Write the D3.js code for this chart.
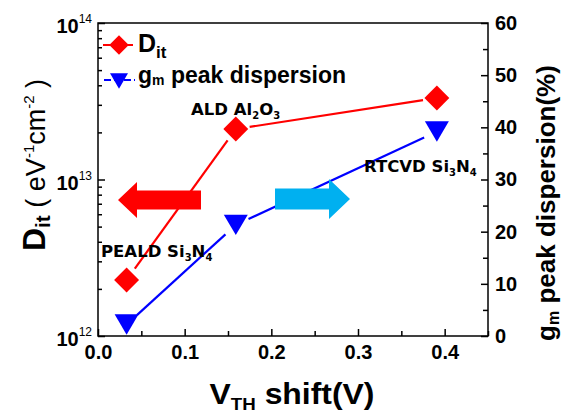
<!DOCTYPE html>
<html><head><meta charset="utf-8">
<script src="https://cdn.jsdelivr.net/npm/d3@7"></script>
<style>body{margin:0;background:#fff}text{font-family:"Liberation Sans",Arial,sans-serif;font-weight:bold}</style>
</head><body>
<svg id="c" width="561" height="413"></svg>
<script>
const vthShift = [0.033, 0.159, 0.391];
const ditValues = [2.28e12, 2.1e13, 3.32e13];
const gmDispersion = [2.2, 21.3, 39.2];
const sampleLabels = ["PEALD Si_3N_4", "ALD Al_2O_3", "RTCVD Si_3N_4"];
const xTicks = [0, 0.1, 0.2, 0.3, 0.4];
const yLeftTicks = [1e12, 1e13, 1e14];
const yRightTicks = [0, 10, 20, 30, 40, 50, 60];

const svg = d3.select("#c");
const L = 98, R = 488, T = 23, B = 336;
const x = d3.scaleLinear().domain([0, 0.45]).range([L, R]);
const yL = d3.scaleLog().domain([1e12, 1e14]).range([B, T]);
const yR = d3.scaleLinear().domain([0, 60]).range([B, T]);

svg.append("rect").attr("x", L).attr("y", T).attr("width", R - L).attr("height", B - T)
  .attr("fill", "none").attr("stroke", "#000").attr("stroke-width", 1.5);

// bottom axis
const gx = svg.append("g").attr("transform", `translate(0,${B})`);
gx.call(d3.axisBottom(x).tickValues(d3.range(0.05, 0.451, 0.1)).tickSize(-5).tickFormat(""));
const gx2 = svg.append("g").attr("transform", `translate(0,${B})`);
gx2.call(d3.axisBottom(x).tickValues(xTicks).tickSize(-7).tickPadding(9).tickFormat(d3.format(".1f")));
svg.selectAll(".domain").remove();
gx2.selectAll("text").attr("font-size", 20).attr("fill", "#000");
svg.selectAll(".tick line").attr("stroke-width", 1.5);

// left log axis
const gl = svg.append("g").attr("transform", `translate(${L},0)`);
const minorL = [];
[1e12, 1e13].forEach(d => { for (let k = 2; k <= 9; k++) minorL.push(d * k); });
gl.call(d3.axisLeft(yL).tickValues(minorL).tickSize(-4).tickFormat(""));
const gl2 = svg.append("g").attr("transform", `translate(${L},0)`);
gl2.call(d3.axisLeft(yL).tickValues(yLeftTicks).tickSize(-7).tickFormat(""));
gl.selectAll(".domain").remove(); gl2.selectAll(".domain").remove();
svg.selectAll(".tick line").attr("stroke-width", 1.5);
yLeftTicks.forEach(v => {
  const e = Math.round(Math.log10(v));
  const t = svg.append("text").attr("x", L - 6).attr("y", yL(v) + 10)
    .attr("text-anchor", "end").attr("font-size", 20);
  t.append("tspan").text("10");
  t.append("tspan").text(e).attr("font-size", 12).attr("dy", -10).attr("font-weight", "normal");
});

// right axis
const gr = svg.append("g").attr("transform", `translate(${R},0)`);
gr.call(d3.axisRight(yR).tickValues(d3.range(5, 60, 10)).tickSize(-5).tickFormat(""));
const gr2 = svg.append("g").attr("transform", `translate(${R},0)`);
gr2.call(d3.axisRight(yR).tickValues(yRightTicks).tickSize(-7).tickPadding(7).tickFormat(d3.format("d")));
gr.selectAll(".domain").remove(); gr2.selectAll(".domain").remove();
gr2.selectAll("text").attr("font-size", 20).attr("fill", "#000");
svg.selectAll(".tick line").attr("stroke-width", 1.5);

function gapLine(pts, color, gap) {
  for (let i = 0; i < pts.length - 1; i++) {
    const [x1, y1] = pts[i], [x2, y2] = pts[i + 1];
    const dx = x2 - x1, dy = y2 - y1, len = Math.hypot(dx, dy);
    const ux = dx / len, uy = dy / len;
    svg.append("line").attr("x1", x1 + ux * gap).attr("y1", y1 + uy * gap)
      .attr("x2", x2 - ux * gap).attr("y2", y2 - uy * gap)
      .attr("stroke", color).attr("stroke-width", 2.2);
  }
}
const redPts = vthShift.map((v, i) => [x(v), yL(ditValues[i])]);
const bluePts = vthShift.map((v, i) => [x(v), yR(gmDispersion[i])]);
gapLine(redPts, "#ff0000", 14);
gapLine(bluePts, "#0000ff", 14);

const diamond = d3.symbol().type(d3.symbolSquare).size(310)();
const tri = s => `M${-s},${-s * 0.85}L${s},${-s * 0.85}L0,${s * 0.85}Z`;
redPts.forEach(p => svg.append("path").attr("d", diamond)
  .attr("transform", `translate(${p[0]},${p[1]}) rotate(45)`).attr("fill", "#ff0000"));
bluePts.forEach(p => svg.append("path").attr("d", tri(12))
  .attr("transform", `translate(${p[0]},${p[1]})`).attr("fill", "#0000ff"));

// legend
svg.append("line").attr("x1", 103).attr("x2", 135).attr("y1", 45).attr("y2", 45)
  .attr("stroke", "#ff0000").attr("stroke-width", 2.2).attr("stroke-dasharray", "8,3");
svg.append("path").attr("d", d3.symbol().type(d3.symbolSquare).size(190)())
  .attr("transform", "translate(119,45) rotate(45)").attr("fill", "#ff0000");
const lt1 = svg.append("text").attr("x", 138).attr("y", 52).attr("font-size", 25);
lt1.append("tspan").text("D");
lt1.append("tspan").text("it").attr("font-size", 17).attr("dy", 6);
svg.append("line").attr("x1", 104).attr("x2", 135).attr("y1", 80).attr("y2", 80)
  .attr("stroke", "#0000ff").attr("stroke-width", 2.2).attr("stroke-dasharray", "7,3");
svg.append("path").attr("d", tri(9)).attr("transform", "translate(119,81)").attr("fill", "#0000ff");
const lt2 = svg.append("text").attr("x", 138).attr("y", 83).attr("font-size", 23);
lt2.append("tspan").text("g");
lt2.append("tspan").text("m").attr("font-size", 14).attr("dy", 2);
lt2.append("tspan").text(" peak dispersion").attr("dy", -2);

// annotations with subscripts
function chemLabel(xp, yp, str) {
  const t = svg.append("text").attr("x", xp).attr("y", yp).attr("font-size", 16.5)
    .style("font-family", "'DejaVu Sans', Verdana, sans-serif");
  let shifted = false;
  str.split(/(_\d)/).forEach(s => {
    if (!s) return;
    if (s[0] === "_") { t.append("tspan").text(s.slice(1)).attr("font-size", 10).attr("dy", shifted ? 0 : 4); shifted = true; }
    else { t.append("tspan").text(s).attr("dy", shifted ? -4 : 0); shifted = false; }
  });
}
chemLabel(101, 257, sampleLabels[0]);
chemLabel(191, 115, sampleLabels[1]);
chemLabel(364, 172, sampleLabels[2]);

// arrows
function arrow(tail, tip, yc, hs, hh, hw, color) {
  const d = Math.sign(tip - tail);
  const hb = tip - d * hw;
  const pts = [[tip, yc], [hb, yc - hh], [hb, yc - hs], [tail, yc - hs], [tail, yc + hs], [hb, yc + hs], [hb, yc + hh]];
  svg.append("path").attr("d", d3.line()(pts) + "Z").attr("fill", color);
}
arrow(201, 118, 200, 9.5, 18, 19, "#ff0000");
arrow(275, 350, 199, 10.5, 20, 21, "#00b0f0");

// axis titles
const xt = svg.append("text").attr("transform", "translate(292,404) scale(1.1,1)").attr("text-anchor", "middle").attr("font-size", 29);
xt.append("tspan").text("V");
xt.append("tspan").text("TH").attr("font-size", 17).attr("dy", 6);
xt.append("tspan").text(" shift(V)").attr("dy", -6);

const yt = svg.append("text").attr("transform", "translate(45,165) rotate(-90)").attr("text-anchor", "middle").attr("font-size", 32);
yt.append("tspan").text("D");
yt.append("tspan").text("it").attr("font-size", 21).attr("dy", 5);
yt.append("tspan").text(" ( eV").attr("dy", -5).attr("font-weight", "normal").attr("font-size", 27);
yt.append("tspan").text("-1").attr("font-size", 15).attr("dy", -11).attr("font-weight", "normal");
yt.append("tspan").text("cm").attr("font-size", 27).attr("dy", 11).attr("font-weight", "normal");
yt.append("tspan").text("-2").attr("font-size", 15).attr("dy", -11).attr("font-weight", "normal");
yt.append("tspan").text(" )").attr("font-size", 27).attr("dy", 11).attr("font-weight", "normal");

const yrt = svg.append("text").attr("transform", "translate(555,203) rotate(-90)").attr("text-anchor", "middle").attr("font-size", 26);
yrt.append("tspan").text("g");
yrt.append("tspan").text("m").attr("font-size", 16).attr("dy", 4);
yrt.append("tspan").text(" peak dispersion(%)").attr("dy", -4);
</script>
</body></html>
